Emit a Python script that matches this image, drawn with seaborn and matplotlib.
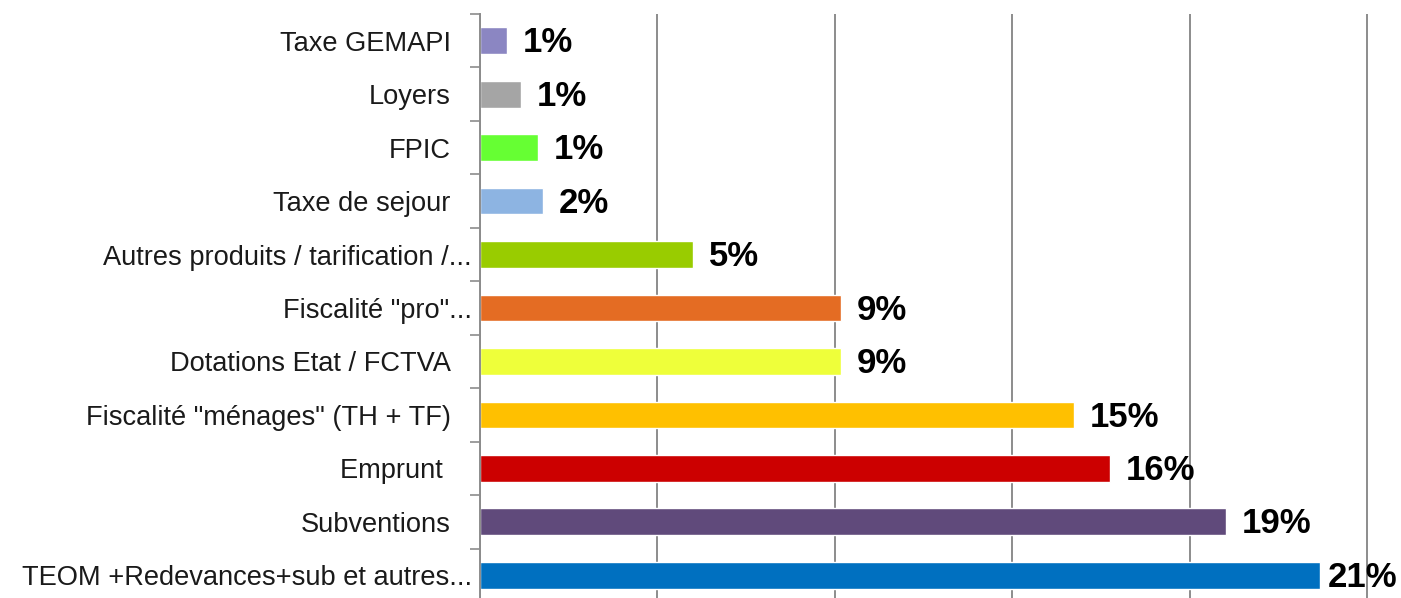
import numpy as np
import pandas as pd
import matplotlib
matplotlib.use("Agg")
import matplotlib.pyplot as plt
import matplotlib.transforms as mtransforms
from matplotlib.ticker import MultipleLocator, FixedLocator
import seaborn as sns

# ---------- données ----------
categories = ['Taxe GEMAPI', 'Loyers', 'FPIC', 'Taxe de sejour',
              'Autres produits / tarification /...', 'Fiscalité "pro"...',
              'Dotations Etat / FCTVA', 'Fiscalité "ménages" (TH + TF)',
              'Emprunt ', 'Subventions', 'TEOM +Redevances+sub et autres...']
shares = [0.68, 1.05, 1.48, 1.60, 5.41, 9.16, 9.15, 15.07, 15.98, 18.92, 21.32]
share_labels = ['1%', '1%', '1%', '2%', '5%', '9%', '9%', '15%', '16%', '19%', '21%']
bar_colors = ['#8B86C2', '#A5A5A5', '#66FF33', '#8DB4E2', '#99CC00', '#E46C23',
              '#EEFF3A', '#FFC000', '#CC0000', '#604A7B', '#0070C0']

df = pd.DataFrame({'poste': categories, 'part': shares})

sns.set_theme(style='white')
plt.rcParams['font.family'] = ['Liberation Sans', 'DejaVu Sans']

W, H = 1401, 598
fig = plt.figure(figsize=(W / 100, H / 100), dpi=100)
xmax = 22.6
px_per_unit = 39.42
ax = fig.add_axes([480 / W, (H - 602) / H, xmax * px_per_unit / W, 588 / H])

sns.barplot(data=df, y='poste', x='part', hue='poste', palette=bar_colors,
            legend=False, width=0.5, saturation=1, ax=ax, orient='h')

ax.set_xlim(0, xmax)
ax.set_ylim(len(categories) - 0.5, -0.5)
ax.xaxis.set_major_locator(MultipleLocator(4.5))
ax.grid(axis='x', color='#8C8C8C', linewidth=1.4)
ax.grid(axis='y', visible=False)
ax.set_axisbelow(True)
ax.set_xticklabels([])
ax.tick_params(axis='x', length=0)
ax.set_xlabel('')
ax.set_ylabel('')

for s in ['top', 'right', 'bottom']:
    ax.spines[s].set_visible(False)
ax.spines['left'].set_color('#8C8C8C')
ax.spines['left'].set_linewidth(1.4)

# ticks aux limites des catégories
ax.yaxis.set_minor_locator(FixedLocator(np.arange(len(categories) + 1) - 0.5))
ax.tick_params(axis='y', which='minor', left=True, length=7, width=1.2, color='#8C8C8C')
ax.tick_params(axis='y', which='major', left=False, length=0, pad=21,
               labelsize=19.6, labelcolor='#1a1a1a')

# les libellés tronqués ("...") débordent un peu plus vers l'axe
shift = mtransforms.ScaledTranslation(21 / 100, 0, fig.dpi_scale_trans)
for t in ax.get_yticklabels():
    if t.get_text().endswith('...'):
        t.set_transform(t.get_transform() + shift)

for i, (v, lab) in enumerate(zip(shares, share_labels)):
    ax.text(min(v + 0.4, 21.5), i + 0.04, lab, va='center', ha='left',
            fontsize=25, fontweight='bold', color='black', clip_on=False)

fig.savefig('out.png', dpi=100)
